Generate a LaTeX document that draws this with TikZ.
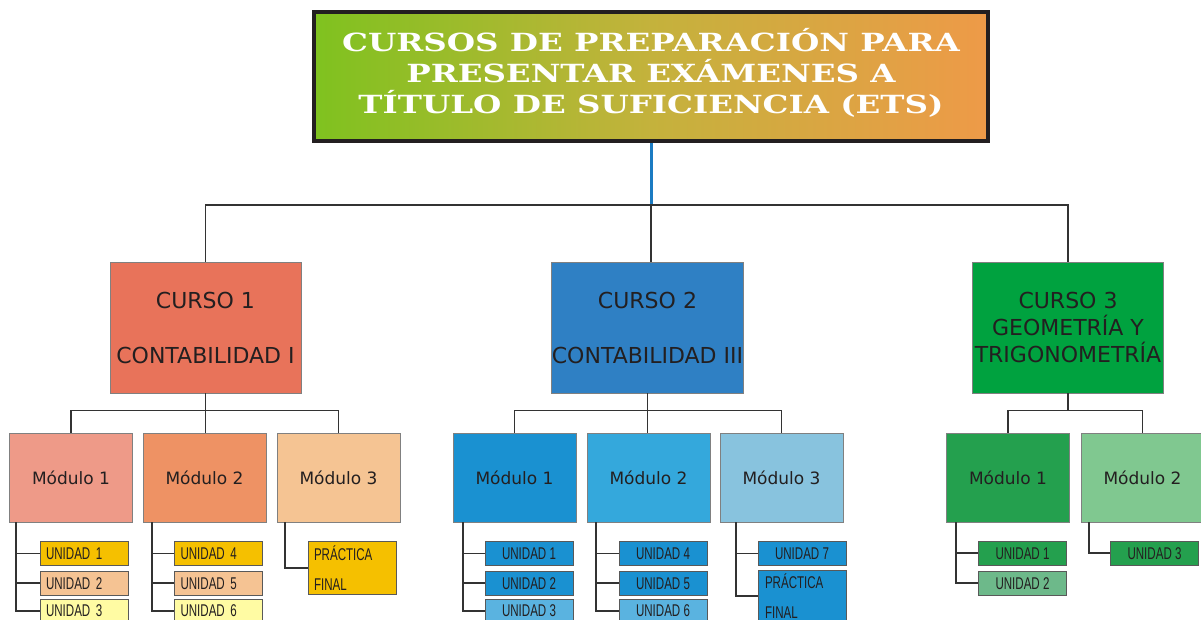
\documentclass[tikz,border=0pt]{standalone}
\usepackage{fontspec}
\setmainfont{DejaVu Sans}
\newfontfamily\titlefont[FakeStretch=1.3]{DejaVu Serif}
\newfontfamily\unitfont[FakeStretch=0.68]{Liberation Sans}
\definecolor{txtdark}{HTML}{231F20}
\definecolor{linedark}{HTML}{333333}
\definecolor{bluelink}{HTML}{1B7BC2}
\definecolor{gradL}{HTML}{7FC21F}
\definecolor{gradM}{HTML}{C4B23C}
\definecolor{gradR}{HTML}{EE9A48}
\definecolor{cursoA}{HTML}{E8735A}
\definecolor{cursoB}{HTML}{2F80C4}
\definecolor{cursoC}{HTML}{00A23F}
\definecolor{modAa}{HTML}{EE9A88}
\definecolor{modAb}{HTML}{EE9264}
\definecolor{modAc}{HTML}{F5C493}
\definecolor{modBa}{HTML}{1A91D1}
\definecolor{modBb}{HTML}{34A8DC}
\definecolor{modBc}{HTML}{88C3DE}
\definecolor{modCa}{HTML}{24A04E}
\definecolor{modCb}{HTML}{80C890}
\definecolor{uGold}{HTML}{F5C000}
\definecolor{uPeach}{HTML}{F5C393}
\definecolor{uYell}{HTML}{FFFBA3}
\definecolor{uBlue}{HTML}{1A91D1}
\definecolor{uBlueL}{HTML}{5AB3E0}
\definecolor{uGreen}{HTML}{24A04E}
\definecolor{uGreenL}{HTML}{6DB98A}
\begin{document}
\begin{tikzpicture}[x=1pt,y=-1pt,
  box/.style={draw=black!50, line width=0.8pt, inner sep=0pt, text=txtdark},
  course/.style={box, minimum width=191pt, minimum height=131pt, font=\fontsize{22}{27}\selectfont, align=center},
  module/.style={box, minimum width=123pt, minimum height=89pt, font=\fontsize{17}{20}\selectfont},
  unit/.style={draw=black!65, line width=0.8pt, minimum width=88pt, minimum height=24pt, inner sep=0pt, text=txtdark, font=\unitfont\fontsize{17}{29.7}\selectfont},
  unitL/.style={unit, text width=76pt, align=left},
  unitC/.style={unit, align=center},
  conn/.style={draw=linedark, line width=1.8pt},
  blueconn/.style={draw=bluelink, line width=3pt}]
\useasboundingbox (0,0) rectangle (1201,619);
\clip (0,0) rectangle (1201,619);
\fill[white] (0,0) rectangle (1201,619);

% title
\node[draw=txtdark, line width=4pt, minimum width=674pt, minimum height=129pt, inner sep=0pt,
      left color=gradL, right color=gradR, middle color=gradM] (title) at (651,76.5) {};
\node[text=white, align=center, inner sep=0pt,
      font=\titlefont\bfseries\fontsize{25}{31}\selectfont] (titletxt) at ([yshift=4pt]title.center)
  {CURSOS DE PREPARACIÓN PARA\\PRESENTAR EXÁMENES A\\TÍTULO DE SUFICIENCIA (ETS)};

% courses
\node[course, fill=cursoA] (c1) at (205.5,327.5) {CURSO 1\\[28pt]CONTABILIDAD I};
\node[course, fill=cursoB] (c2) at (647.5,327.5) {CURSO 2\\[28pt]CONTABILIDAD III};
\node[course, fill=cursoC] (c3) at (1068,327.5) {CURSO 3\\GEOMETRÍA Y\\TRIGONOMETRÍA};

% modules
\node[module, fill=modAa] (m11) at (71,477.5) {Módulo 1};
\node[module, fill=modAb] (m12) at (204.5,477.5) {Módulo 2};
\node[module, fill=modAc] (m13) at (338.5,477.5) {Módulo 3};
\node[module, fill=modBa] (m21) at (514.5,477.5) {Módulo 1};
\node[module, fill=modBb] (m22) at (648.5,477.5) {Módulo 2};
\node[module, fill=modBc] (m23) at (781.5,477.5) {Módulo 3};
\node[module, fill=modCa] (m31) at (1008,477.5) {Módulo 1};
\node[module, fill=modCb] (m32) at (1142.5,477.5) {Módulo 2};

% units course 1
\node[unitL, fill=uGold]  (u11) at (84,553.5) {UNIDAD 1};
\node[unitL, fill=uPeach] (u12) at (84,583.3) {UNIDAD 2};
\node[unitL, fill=uYell]  (u13) at (84,611) {UNIDAD 3};
\node[unitL, fill=uGold]  (u14) at (218.5,553.5) {UNIDAD 4};
\node[unitL, fill=uPeach] (u15) at (218.5,583.3) {UNIDAD 5};
\node[unitL, fill=uYell]  (u16) at (218.5,611) {UNIDAD 6};
\node[unitL, fill=uGold, minimum height=52.4pt] (p1) at (352,568) {PRÁCTICA\\FINAL};

% units course 2
\node[unitC, fill=uBlue]  (u21) at (529,553.5) {UNIDAD 1};
\node[unitC, fill=uBlue]  (u22) at (529,583.3) {UNIDAD 2};
\node[unitC, fill=uBlueL] (u23) at (529,611) {UNIDAD 3};
\node[unitC, fill=uBlue]  (u24) at (663,553.5) {UNIDAD 4};
\node[unitC, fill=uBlue]  (u25) at (663,583.3) {UNIDAD 5};
\node[unitC, fill=uBlueL] (u26) at (663,611) {UNIDAD 6};
\node[unitC, fill=uBlue]  (u27) at (802,553.5) {UNIDAD 7};
\node[unit, fill=uBlue, minimum height=52pt, text width=74pt, align=left] (p2) at (802,596) {PRÁCTICA\\FINAL};

% units course 3
\node[unitC, fill=uGreen]  (u31) at (1022.5,553.3) {UNIDAD 1};
\node[unitC, fill=uGreenL] (u32) at (1022.5,583.3) {UNIDAD 2};
\node[unitC, fill=uGreen]  (u33) at (1154.5,553.3) {UNIDAD 3};

% top connectors
\coordinate (hub) at (651,205);
\draw[blueconn] (title.south) -- (hub);
\draw[conn] (c1.north) |- (hub) -| (c3.north);
\draw[conn] (hub) -- (hub |- c2.north);

% course to modules
\draw[conn] (c1.south) -- ++(0,17) coordinate (h1);
\draw[conn] (m11.north) |- (h1) -| (m13.north);
\draw[conn] (h1) -- (h1 |- m12.north);
\draw[conn] (c2.south) -- ++(0,17) coordinate (h2);
\draw[conn] (m21.north) |- (h2) -| (m23.north);
\draw[conn] (h2) -- (h2 |- m22.north);
\draw[conn] (c3.south) -- ++(0,17) coordinate (h3);
\draw[conn] (m31.north) |- (h3) -| (m32.north);

% modules to units
\draw[conn] ([xshift=7pt]m11.south west) |- (u11.west);
\draw[conn] ([xshift=7pt]m11.south west) |- (u12.west);
\draw[conn] ([xshift=7pt]m11.south west) |- (u13.west);
\draw[conn] ([xshift=9pt]m12.south west) |- (u14.west);
\draw[conn] ([xshift=9pt]m12.south west) |- (u15.west);
\draw[conn] ([xshift=9pt]m12.south west) |- (u16.west);
\draw[conn] ([xshift=8pt]m13.south west) |- (p1.west);
\draw[conn] ([xshift=10pt]m21.south west) |- (u21.west);
\draw[conn] ([xshift=10pt]m21.south west) |- (u22.west);
\draw[conn] ([xshift=10pt]m21.south west) |- (u23.west);
\draw[conn] ([xshift=9pt]m22.south west) |- (u24.west);
\draw[conn] ([xshift=9pt]m22.south west) |- (u25.west);
\draw[conn] ([xshift=9pt]m22.south west) |- (u26.west);
\draw[conn] ([xshift=16pt]m23.south west) |- (u27.west);
\draw[conn] ([xshift=16pt]m23.south west) |- (p2.west);
\draw[conn] ([xshift=10pt]m31.south west) |- (u31.west);
\draw[conn] ([xshift=10pt]m31.south west) |- (u32.west);
\draw[conn] ([xshift=8pt]m32.south west) |- (u33.west);
\end{tikzpicture}
\end{document}
